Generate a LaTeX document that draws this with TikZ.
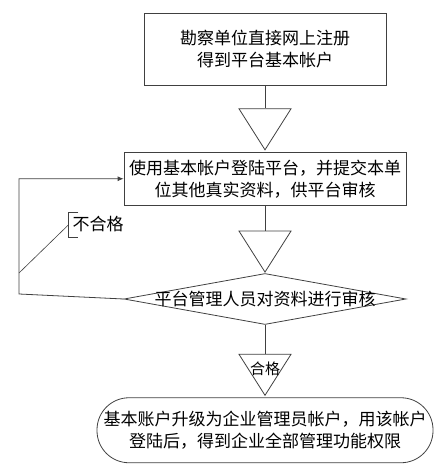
\documentclass[tikz,border=0pt]{standalone}
\usepackage{fontspec}
\setmainfont{Noto Sans CJK SC}
\usetikzlibrary{positioning,shapes.geometric,arrows.meta}

\begin{document}
\begin{tikzpicture}[
    x=1pt, y=-1pt,
    font=\fontsize{17pt}{22pt}\selectfont,
    line/.style={draw=black!75, line width=0.8pt},
    stepbox/.style={rectangle, line, align=center, inner sep=0pt},
    tri/.style={isosceles triangle, isosceles triangle stretches, shape border rotate=270, line, inner sep=0pt, minimum width=52pt, minimum height=41pt},
    decision/.style={diamond, line, inner sep=0pt, minimum width=282pt, minimum height=51pt},
    endbox/.style={rectangle, rounded corners=32pt, line, align=center, inner sep=0pt, minimum width=336pt, minimum height=65pt},
    arrow/.style={line, -{Latex[length=6pt,width=5pt]}}
]
    \useasboundingbox (0,0) rectangle (444,465);

    \node[stepbox, minimum width=242pt, minimum height=72pt] (reg) at (265,49) {勘察单位直接网上注册\\得到平台基本帐户};
    \node[tri, below=23pt of reg] (tri1) {};
    \node[stepbox, minimum width=282pt, minimum height=53pt, below=1pt of tri1] (login) {使用基本帐户登陆平台，并提交本单\\位其他真实资料，供平台审核};
    \node[tri, below=25pt of login] (tri2) {};
    \node[decision, below=0pt of tri2, label=center:{平台管理人员对资料进行审核}] (check) {};
    \node[tri, below=29pt of check] (tri3) {};
    \node[font=\fontsize{15pt}{18pt}\selectfont] (pass) at (tri3.center) {合格};
    \node[endbox, below=1pt of tri3] (final) {基本账户升级为企业管理员帐户，用该帐户\\登陆后，得到企业全部管理功能权限};

    \draw[line] (reg.south) -- (tri1.north);
    \draw[line] (login.south) -- (tri2.north);
    \draw[line] (check.south) -- (tri3.north);

    % back to login when the check fails
    \coordinate (loopcorner) at (19,294);
    \coordinate (loopmid) at (19,273);
    \draw[arrow] (check.west) -- (loopcorner) |- (login.west);

    \node[inner sep=0pt] (fail) at (98,224) {不合格};
    \draw[line, line width=0.6pt] (fail.west) ++(6,-12) -- ++(-10,0) coordinate (btop) -- ++(0,25) -- ++(10,0);
    \draw[line, line width=0.6pt] (btop) ++(0,13) -- (loopmid);
\end{tikzpicture}
\end{document}
